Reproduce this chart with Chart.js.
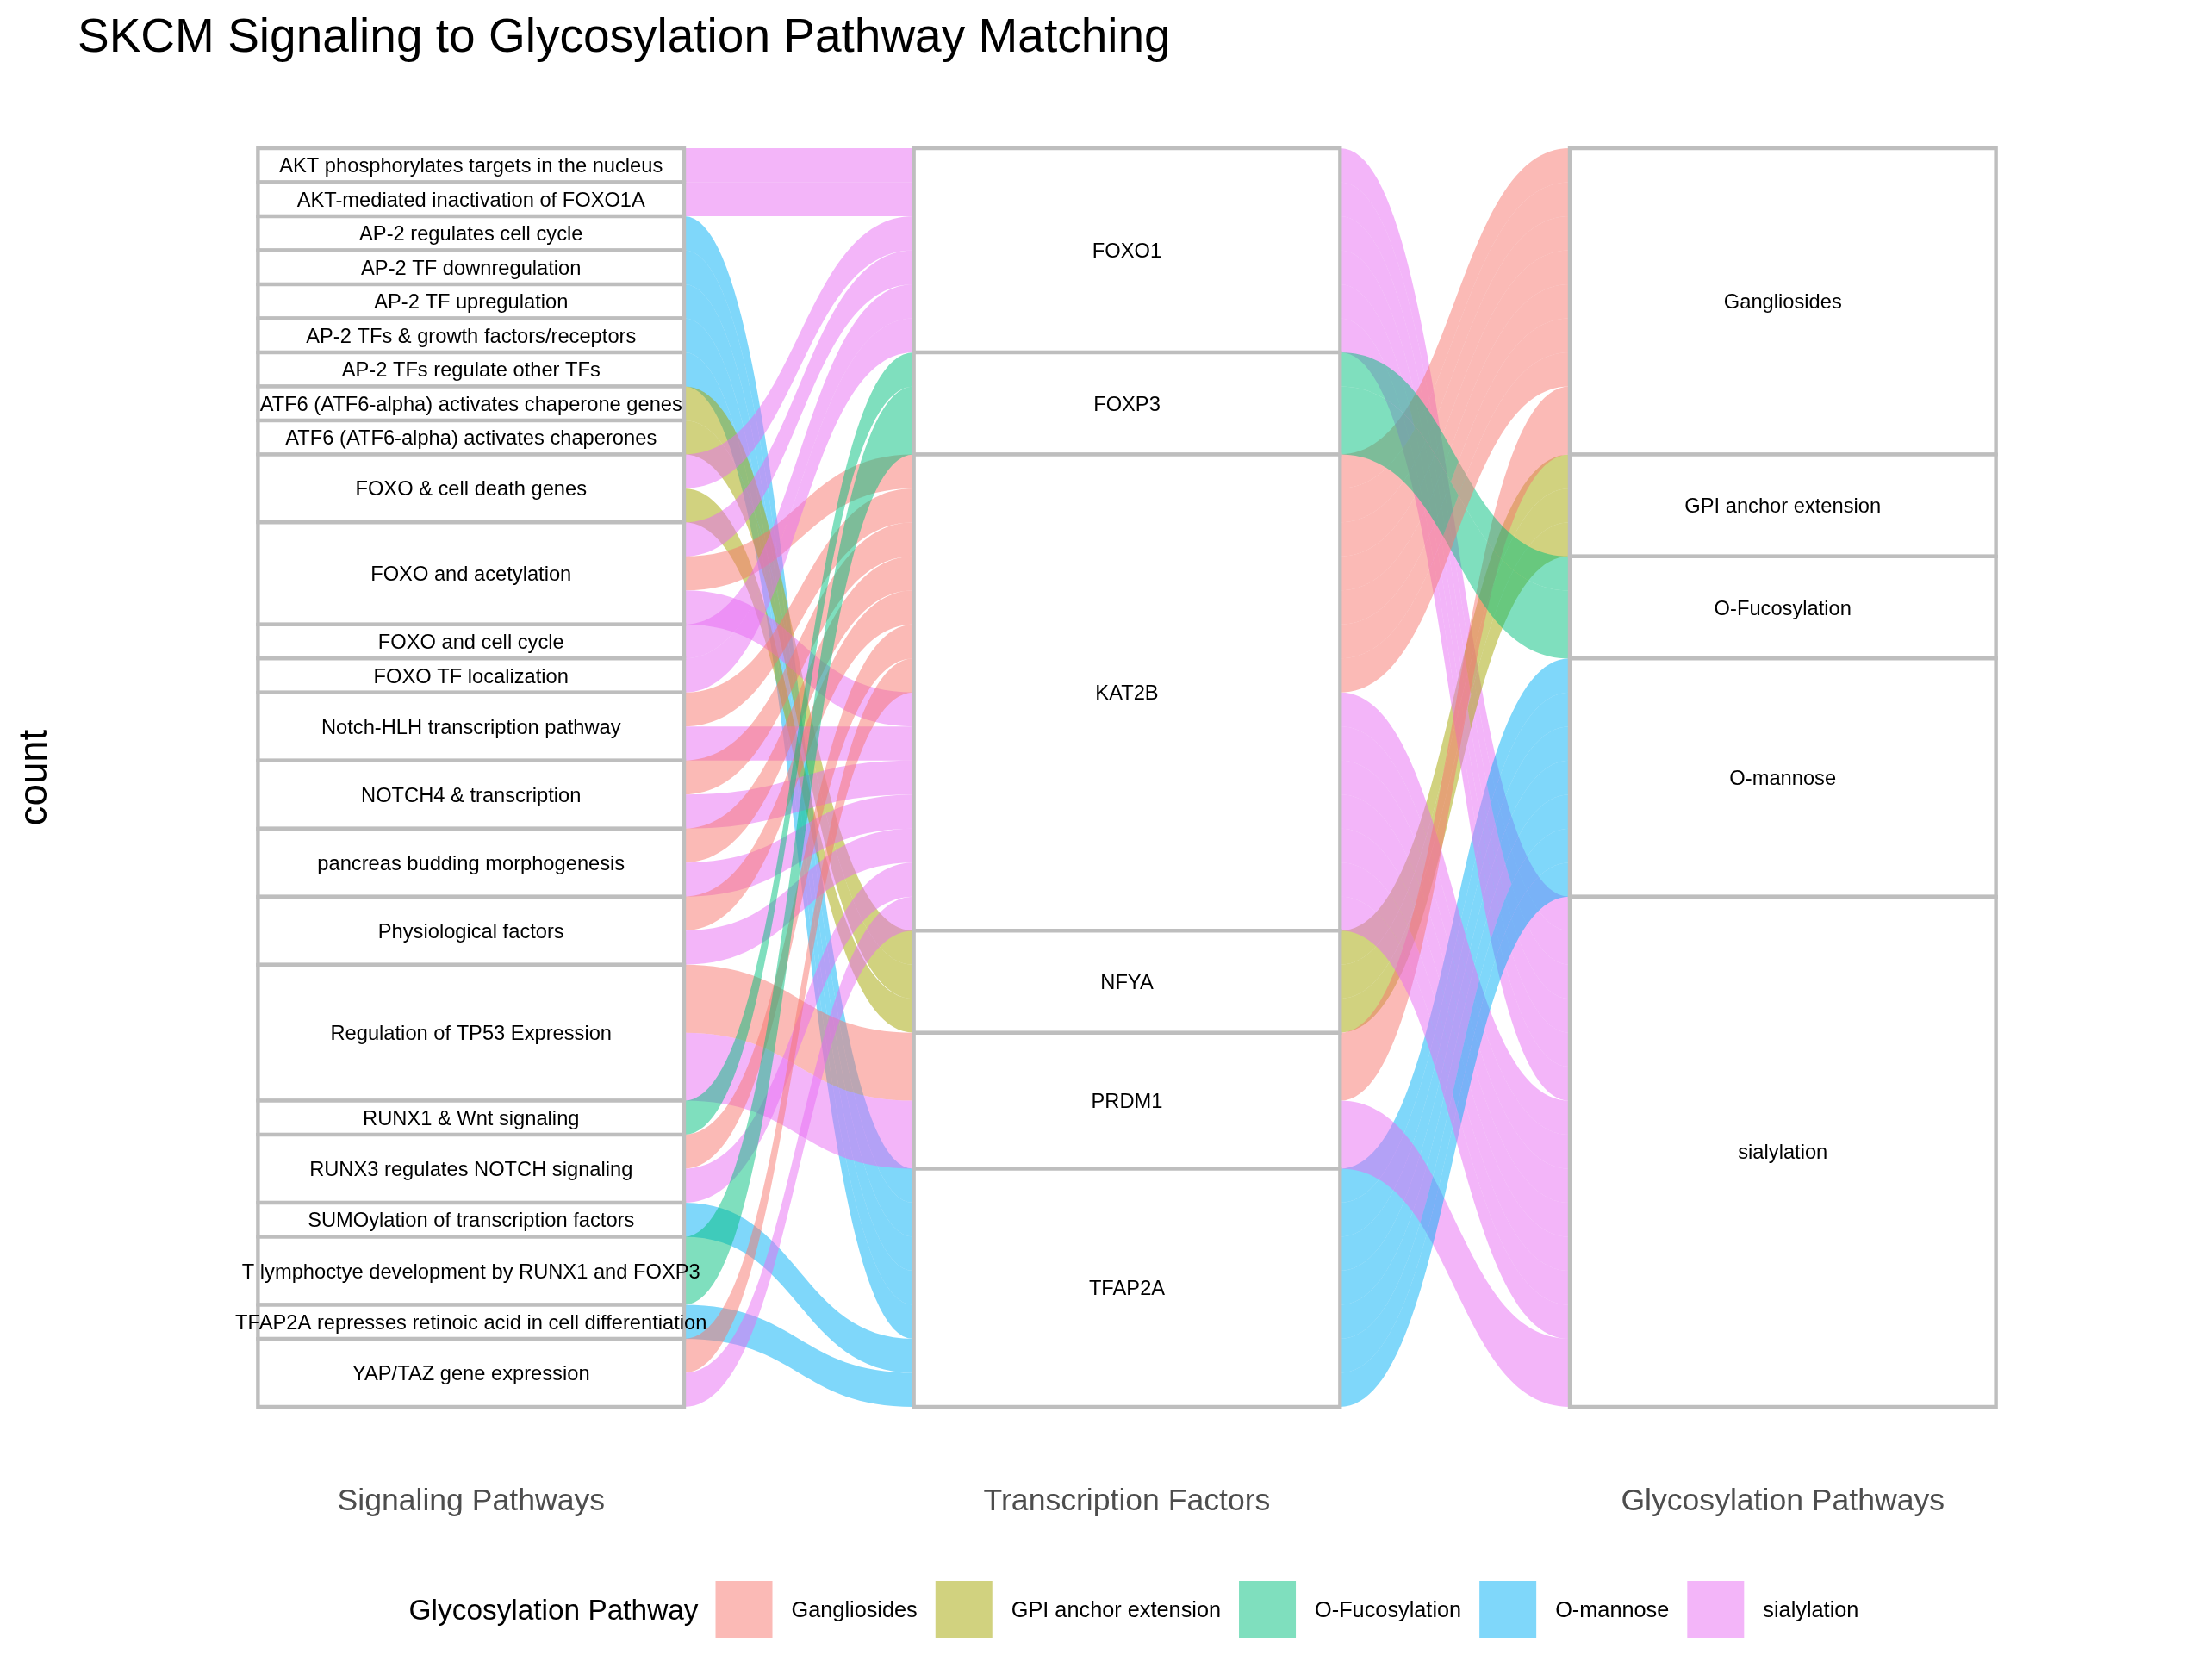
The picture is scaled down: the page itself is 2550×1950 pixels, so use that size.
<!DOCTYPE html>
<html>
<head>
<meta charset="utf-8">
<script src="https://cdn.jsdelivr.net/npm/chart.js@4.4.1/dist/chart.umd.min.js"></script>
<style>
  html, body { margin: 0; padding: 0; background: #ffffff; }
  #wrap { width: 2550px; height: 1950px; position: relative; }
</style>
</head>
<body>
<div id="wrap"><canvas id="chart" width="2550" height="1950"></canvas></div>
<script>
// ---------------- DATA ----------------
const chartTitle = 'SKCM Signaling to Glycosylation Pathway Matching';
const axisNames = ['Signaling Pathways', 'Transcription Factors', 'Glycosylation Pathways'];
const yAxisTitle = 'count';
const legendTitle = 'Glycosylation Pathway';

const signalingPathways = [
  'AKT phosphorylates targets in the nucleus',
  'AKT-mediated inactivation of FOXO1A',
  'AP-2 regulates cell cycle',
  'AP-2 TF downregulation',
  'AP-2 TF upregulation',
  'AP-2 TFs & growth factors/receptors',
  'AP-2 TFs regulate other TFs',
  'ATF6 (ATF6-alpha) activates chaperone genes',
  'ATF6 (ATF6-alpha) activates chaperones',
  'FOXO & cell death genes',
  'FOXO and acetylation',
  'FOXO and cell cycle',
  'FOXO TF localization',
  'Notch-HLH transcription pathway',
  'NOTCH4 & transcription',
  'pancreas budding morphogenesis',
  'Physiological factors',
  'Regulation of TP53 Expression',
  'RUNX1 & Wnt signaling',
  'RUNX3 regulates NOTCH signaling',
  'SUMOylation of transcription factors',
  'T lymphoctye development by RUNX1 and FOXP3',
  'TFAP2A represses retinoic acid in cell differentiation',
  'YAP/TAZ gene expression'
];
const transcriptionFactors = ['FOXO1', 'FOXP3', 'KAT2B', 'NFYA', 'PRDM1', 'TFAP2A'];
const glycosylationPathways = ['Gangliosides', 'GPI anchor extension', 'O-Fucosylation', 'O-mannose', 'sialylation'];
const glycosylationColors = ['#F8766D', '#A3A500', '#00BF7D', '#00B0F6', '#E76BF3'];

// one entry per alluvium (signal -> TF -> glycosylation pathway)
const flowSignal = [
  'AKT phosphorylates targets in the nucleus',
  'AKT-mediated inactivation of FOXO1A',
  'AP-2 regulates cell cycle',
  'AP-2 TF downregulation',
  'AP-2 TF upregulation',
  'AP-2 TFs & growth factors/receptors',
  'AP-2 TFs regulate other TFs',
  'ATF6 (ATF6-alpha) activates chaperone genes',
  'ATF6 (ATF6-alpha) activates chaperones',
  'FOXO & cell death genes',
  'FOXO & cell death genes',
  'FOXO and acetylation',
  'FOXO and acetylation',
  'FOXO and acetylation',
  'FOXO and cell cycle',
  'FOXO TF localization',
  'Notch-HLH transcription pathway',
  'Notch-HLH transcription pathway',
  'NOTCH4 & transcription',
  'NOTCH4 & transcription',
  'pancreas budding morphogenesis',
  'pancreas budding morphogenesis',
  'Physiological factors',
  'Physiological factors',
  'Regulation of TP53 Expression',
  'Regulation of TP53 Expression',
  'RUNX1 & Wnt signaling',
  'RUNX3 regulates NOTCH signaling',
  'RUNX3 regulates NOTCH signaling',
  'SUMOylation of transcription factors',
  'T lymphoctye development by RUNX1 and FOXP3',
  'TFAP2A represses retinoic acid in cell differentiation',
  'YAP/TAZ gene expression',
  'YAP/TAZ gene expression'
];
const flowTF = [
  'FOXO1', 'FOXO1',
  'TFAP2A', 'TFAP2A', 'TFAP2A', 'TFAP2A', 'TFAP2A',
  'NFYA', 'NFYA',
  'FOXO1', 'NFYA',
  'FOXO1', 'KAT2B', 'KAT2B',
  'FOXO1',
  'FOXO1',
  'KAT2B', 'KAT2B',
  'KAT2B', 'KAT2B',
  'KAT2B', 'KAT2B',
  'KAT2B', 'KAT2B',
  'PRDM1', 'PRDM1',
  'FOXP3',
  'KAT2B', 'KAT2B',
  'TFAP2A',
  'FOXP3',
  'TFAP2A',
  'KAT2B', 'KAT2B'
];
const flowGlyco = [
  'sialylation', 'sialylation',
  'O-mannose', 'O-mannose', 'O-mannose', 'O-mannose', 'O-mannose',
  'GPI anchor extension', 'GPI anchor extension',
  'sialylation', 'GPI anchor extension',
  'sialylation', 'Gangliosides', 'sialylation',
  'sialylation',
  'sialylation',
  'Gangliosides', 'sialylation',
  'Gangliosides', 'sialylation',
  'Gangliosides', 'sialylation',
  'Gangliosides', 'sialylation',
  'Gangliosides', 'sialylation',
  'O-Fucosylation',
  'Gangliosides', 'sialylation',
  'O-mannose',
  'O-Fucosylation',
  'O-mannose',
  'Gangliosides', 'sialylation'
];
const flowCount = [
  1, 1,
  1, 1, 1, 1, 1,
  1, 1,
  1, 1,
  1, 1, 1,
  1,
  1,
  1, 1,
  1, 1,
  1, 1,
  1, 1,
  2, 2,
  1,
  1, 1,
  1,
  2,
  1,
  1, 1
];

// ---------------- LAYOUT OF LODES (ggalluvial-like) ----------------
const FONT = '"Liberation Sans", Arial, Helvetica, sans-serif';
const axisCats = [signalingPathways, transcriptionFactors, glycosylationPathways];
const nRows = flowSignal.length;
const rowIdx = [];
for (let r = 0; r < nRows; r++) {
  rowIdx.push([
    signalingPathways.indexOf(flowSignal[r]),
    transcriptionFactors.indexOf(flowTF[r]),
    glycosylationPathways.indexOf(flowGlyco[r])
  ]);
}
// lode ordering guidance (zigzag)
const guidance = [[0, 1, 2], [1, 2, 0], [2, 1, 0]];
const lodeStart = [[], [], []];
for (let a = 0; a < 3; a++) {
  const order = [...Array(nRows).keys()].sort((p, q) => {
    for (const k of guidance[a]) {
      if (rowIdx[p][k] !== rowIdx[q][k]) return rowIdx[p][k] - rowIdx[q][k];
    }
    return p - q;
  });
  let acc = 0;
  for (const r of order) { lodeStart[a][r] = acc; acc += flowCount[r]; }
}
// strata as floating bars
const strataBars = [];
for (let a = 0; a < 3; a++) {
  let acc = 0;
  axisCats[a].forEach((cat, ci) => {
    let tot = 0;
    for (let r = 0; r < nRows; r++) if (rowIdx[r][a] === ci) tot += flowCount[r];
    if (tot > 0) { strataBars.push({ x: a + 1, y: [acc, acc + tot], label: cat }); acc += tot; }
  });
}

const STRATUM_WIDTH = 0.65;

function withAlpha(hex, a) {
  const n = parseInt(hex.slice(1), 16);
  return `rgba(${(n >> 16) & 255},${(n >> 8) & 255},${n & 255},${a})`;
}

const alluvialPlugin = {
  id: 'alluvial',
  beforeDatasetsDraw(chart) {
    const { ctx, scales: { x, y } } = chart;
    ctx.save();
    for (let r = 0; r < nRows; r++) {
      ctx.fillStyle = withAlpha(glycosylationColors[rowIdx[r][2]], 0.5);
      for (let a = 0; a < 2; a++) {
        const x0 = x.getPixelForValue(a + 1 + STRATUM_WIDTH / 2);
        const x1 = x.getPixelForValue(a + 2 - STRATUM_WIDTH / 2);
        const t0 = y.getPixelForValue(lodeStart[a][r]);
        const b0 = y.getPixelForValue(lodeStart[a][r] + flowCount[r]);
        const t1 = y.getPixelForValue(lodeStart[a + 1][r]);
        const b1 = y.getPixelForValue(lodeStart[a + 1][r] + flowCount[r]);
        const cx = (x1 - x0) * 0.5;
        ctx.beginPath();
        ctx.moveTo(x0, t0);
        ctx.bezierCurveTo(x0 + cx, t0, x1 - cx, t1, x1, t1);
        ctx.lineTo(x1, b1);
        ctx.bezierCurveTo(x1 - cx, b1, x0 + cx, b0, x0, b0);
        ctx.closePath();
        ctx.fill();
      }
    }
    ctx.restore();
  },
  afterDatasetsDraw(chart) {
    const { ctx, scales: { x, y } } = chart;
    ctx.save();
    const fs = 23.7;
    ctx.font = `${fs}px ${FONT}`;
    ctx.fillStyle = '#000000';
    ctx.textAlign = 'center';
    ctx.textBaseline = 'alphabetic';
    for (const s of strataBars) {
      const cxp = x.getPixelForValue(s.x);
      const cyp = (y.getPixelForValue(s.y[0]) + y.getPixelForValue(s.y[1])) / 2;
      ctx.fillText(s.label, cxp, cyp + 0.358 * fs);
    }
    ctx.restore();
  },
  afterDraw(chart) {
    const { ctx } = chart;
    ctx.save();
    const titleSize = 33.4, labSize = 25.3, key = 66;
    const cy = 1868;
    ctx.font = `${titleSize}px ${FONT}`;
    const tw = ctx.measureText(legendTitle).width;
    ctx.font = `${labSize}px ${FONT}`;
    const lw = glycosylationPathways.map(t => ctx.measureText(t).width);
    let total = tw + 20;
    lw.forEach((w, i) => { total += key + 22 + w + (i < lw.length - 1 ? 21 : 0); });
    let xp = 1316 - total / 2;
    ctx.fillStyle = '#000000';
    ctx.textAlign = 'left';
    ctx.textBaseline = 'alphabetic';
    ctx.font = `${titleSize}px ${FONT}`;
    ctx.fillText(legendTitle, xp, cy + 0.358 * titleSize);
    xp += tw + 20;
    glycosylationPathways.forEach((t, i) => {
      ctx.fillStyle = withAlpha(glycosylationColors[i], 0.5);
      ctx.fillRect(xp, cy - key / 2, key, key);
      xp += key + 22;
      ctx.fillStyle = '#000000';
      ctx.font = `${labSize}px ${FONT}`;
      ctx.fillText(t, xp, cy + 0.358 * labSize);
      xp += lw[i] + 21;
    });
    ctx.restore();
  }
};

new Chart(document.getElementById('chart').getContext('2d'), {
  type: 'bar',
  data: {
    datasets: [{
      data: strataBars,
      parsing: { xAxisKey: 'x', yAxisKey: 'y' },
      backgroundColor: '#FFFFFF',
      borderColor: '#BEBEBE',
      borderWidth: 4.5,
      borderSkipped: false,
      inflateAmount: 2.25,
      barPercentage: STRATUM_WIDTH,
      categoryPercentage: 1
    }]
  },
  options: {
    responsive: false,
    animation: false,
    events: [],
    layout: { padding: { left: 0, right: 24, top: 0, bottom: 0 } },
    plugins: {
      legend: { display: false },
      tooltip: { enabled: false },
      title: {
        display: true,
        text: chartTitle,
        align: 'start',
        fullSize: false,
        color: '#000000',
        font: { family: FONT, size: 55, weight: 'normal' },
        padding: { top: 12, bottom: 21 }
      }
    },
    scales: {
      x: {
        type: 'linear',
        min: 0.4,
        max: 3.6,
        offset: false,
        grid: { display: false, drawTicks: false, offset: false },
        border: { display: false },
        afterBuildTicks: (s) => { s.ticks = [1, 2, 3].map(v => ({ value: v })); },
        afterFit: (s) => { s.height = 244; },
        ticks: {
          autoSkip: false,
          maxRotation: 0,
          minRotation: 0,
          padding: 16,
          color: '#4D4D4D',
          font: { family: FONT, size: 35.6 },
          callback: (v) => axisNames[Math.round(v) - 1]
        }
      },
      y: {
        type: 'linear',
        reverse: true,
        min: -1.85,
        max: 38.85,
        grid: { display: false, drawTicks: false },
        border: { display: false },
        ticks: { display: false },
        afterFit: (s) => { s.width = 90; },
        title: {
          display: true,
          text: yAxisTitle,
          color: '#000000',
          font: { family: FONT, size: 45.5 },
          padding: { top: 14, bottom: 0 }
        }
      }
    }
  },
  plugins: [alluvialPlugin]
});
</script>
</body>
</html>
